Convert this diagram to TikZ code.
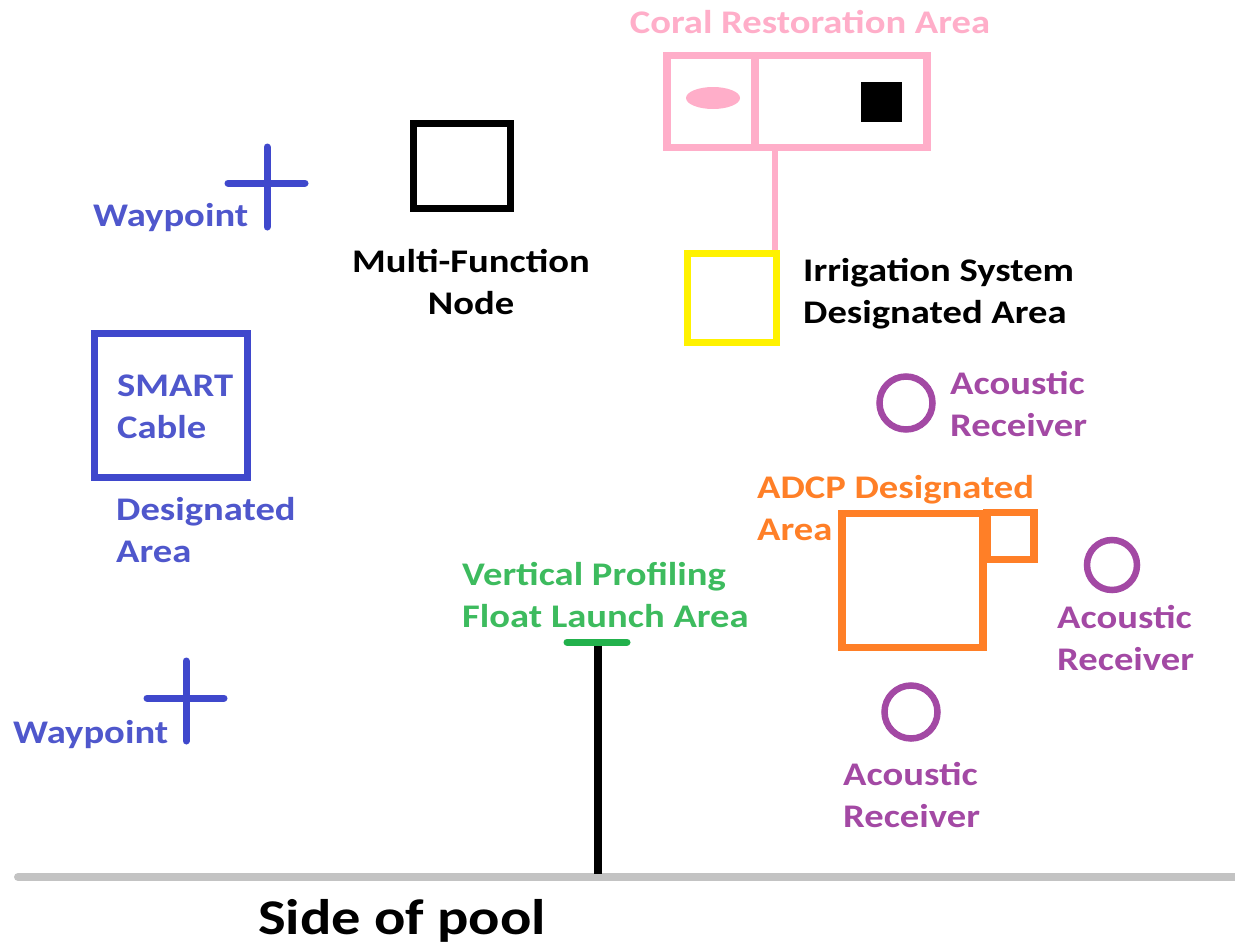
\documentclass[tikz,border=0pt]{standalone}
\usepackage{fontspec}
\setmainfont{Carlito}
\usetikzlibrary{shapes.geometric}
\definecolor{wblue}{HTML}{3F48CC}
\definecolor{tblue}{HTML}{4F57CC}
\definecolor{cpink}{HTML}{FFAEC9}
\definecolor{cyellow}{HTML}{FFF200}
\definecolor{corange}{HTML}{FF7F27}
\definecolor{cpurple}{HTML}{A349A4}
\definecolor{cgreen}{HTML}{22B14C}
\definecolor{tgreen}{HTML}{3DBB5E}
\definecolor{cgray}{HTML}{C3C3C3}
\tikzset{
  lbl/.style={inner sep=0pt, xscale=1.17, font=\fontsize{33}{42}\selectfont\bfseries, align=left},
  box/.style={draw, line width=7.5pt, inner sep=0pt},
  ring/.style={draw=cpurple, line width=6.5pt, circle, inner sep=0pt},
  crossline/.style={draw=wblue, line width=7pt, line cap=round},
}
\begin{document}
\begin{tikzpicture}[x=1pt,y=-1pt]
\useasboundingbox (0,0) rectangle (1235,951);
% ground
\coordinate (gl) at (18,877);
\coordinate (gr) at (1240,877);
\draw[cgray, line width=8pt, line cap=round] (gl) -- (gr);
\node[lbl, font=\fontsize{50}{60}\selectfont\bfseries, anchor=west] (pool) at (258,921) {Side of pool};
% float launch
\coordinate (gb1) at (567,642);
\coordinate (gb2) at (627,642);
\coordinate (ftop) at (598,645);
\coordinate (fbot) at (598,874);
\draw[black, line width=8pt] (ftop) -- (fbot);
\draw[cgreen, line width=7pt, line cap=round] (gb1) -- (gb2);
\node[lbl, text=tgreen, anchor=west] (vpf) at (462,595) {Vertical Profiling\\Float Launch Area};
% waypoints
\coordinate (w1t) at (267,147); \coordinate (w1b) at (267,227);
\coordinate (w1l) at (228,183); \coordinate (w1r) at (305,183);
\draw[crossline] (w1t) -- (w1b); \draw[crossline] (w1l) -- (w1r);
\node[lbl, text=tblue, anchor=west] (wp1) at (93,218) {Waypoint};
\coordinate (w2t) at (186,661); \coordinate (w2b) at (186,741);
\coordinate (w2l) at (147,698); \coordinate (w2r) at (224,698);
\draw[crossline] (w2t) -- (w2b); \draw[crossline] (w2l) -- (w2r);
\node[lbl, text=tblue, anchor=west] (wp2) at (13,735) {Waypoint};
% SMART cable
\node[box, draw=wblue, minimum width=153pt, minimum height=144pt] (smart) at (171,405.5) {};
\node[lbl, text=tblue, anchor=west] (smarttxt) at (117,407) {SMART\\Cable};
\node[lbl, text=tblue, anchor=west] (smartda) at (116,530) {Designated\\Area};
% multi-function node
\node[box, draw=black, minimum width=97pt, minimum height=85pt] (mfn) at (462,166) {};
\node[lbl, align=center] (mfntxt) at (471,282) {Multi-Function\\Node};
% coral restoration
\node[lbl, text=cpink] (coraltxt) at (810,22) {Coral Restoration Area};
\node[box, draw=cpink, minimum width=260pt, minimum height=92pt] (coral) at (797,101.5) {};
\coordinate (cdt) at (755,52); \coordinate (cdb) at (755,151);
\draw[cpink, line width=7.5pt] (cdt) -- (cdb);
\node[ellipse, fill=cpink, minimum width=54pt, minimum height=22pt, inner sep=0pt] (egg) at (713,98) {};
\node[fill=black, minimum width=41pt, minimum height=40pt, inner sep=0pt] (blk) at (881.5,102) {};
% irrigation
\node[box, draw=cyellow, line width=7pt, minimum width=89pt, minimum height=89pt] (irr) at (731.5,297.5) {};
\coordinate (stemtop) at (775,151);
\draw[cpink, line width=6pt] (stemtop) -- (stemtop |- irr.north);
\node[lbl, anchor=west] (irrtxt) at (803,294) {Irrigation System\\Designated Area};
% acoustic receivers
\node[ring, minimum size=53pt] (ar1) at (906,403) {};
\node[lbl, text=cpurple, anchor=west] (ar1t) at (950,404) {Acoustic\\Receiver};
\node[ring, minimum size=50pt] (ar2) at (1112,565) {};
\node[lbl, text=cpurple, anchor=west] (ar2t) at (1057,638) {Acoustic\\Receiver};
\node[ring, minimum size=53pt] (ar3) at (911,712) {};
\node[lbl, text=cpurple, anchor=west] (ar3t) at (843,795) {Acoustic\\Receiver};
% ADCP
\node[box, draw=corange, minimum width=141pt, minimum height=134pt] (adcp) at (912.5,580.5) {};
\node[box, draw=corange, minimum width=47pt, minimum height=47pt] (adcps) at (1010.5,536) {};
\node[lbl, text=corange, anchor=west] (adcptxt) at (757,508) {ADCP Designated\\Area};
\end{tikzpicture}
\end{document}
